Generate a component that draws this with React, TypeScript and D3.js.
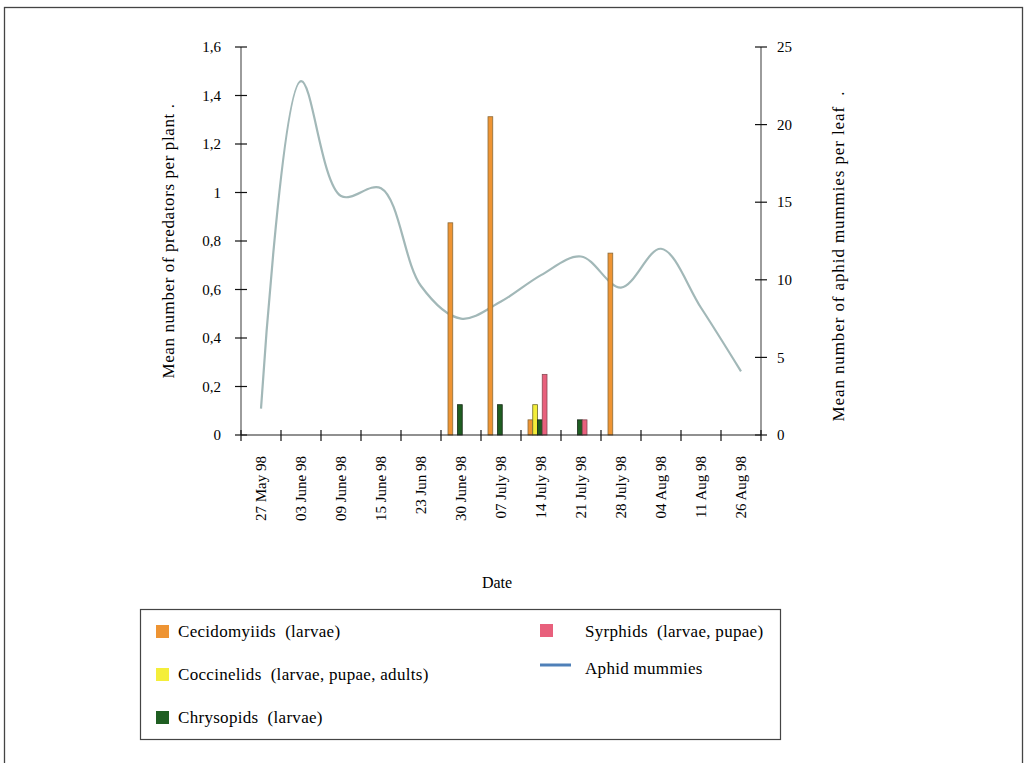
import React from 'react';
import * as d3 from 'd3';

const dates = [
  '27 May 98', '03 June 98', '09 June 98', '15 June 98', '23 Jun 98', '30 June 98',
  '07 July 98', '14 July 98', '21 July 98', '28 July 98', '04 Aug 98', '11 Aug 98', '26 Aug 98',
];

// predators per plant
const cecidomyiids = [0, 0, 0, 0, 0, 0.875, 1.3125, 0.0625, 0, 0.75, 0, 0, 0];
const coccinelids = [0, 0, 0, 0, 0, 0, 0, 0.125, 0, 0, 0, 0, 0];
const chrysopids = [0, 0, 0, 0, 0, 0.125, 0.125, 0.0625, 0.0625, 0, 0, 0, 0];
const syrphids = [0, 0, 0, 0, 0, 0, 0, 0.25, 0.0625, 0, 0, 0, 0];

// aphid mummies per leaf
const mummies = [1.7, 22.8, 15.4, 15.9, 9.6, 7.5, 8.6, 10.3, 11.5, 9.5, 12.0, 8.2, 4.1];

const leftTicks = [0, 0.2, 0.4, 0.6, 0.8, 1, 1.2, 1.4, 1.6];
const rightTicks = [0, 5, 10, 15, 20, 25];

const series = [
  { name: 'Cecidomyiids  (larvae)', values: cecidomyiids, fill: '#EE9433', stroke: '#8a6a3a' },
  { name: 'Coccinelids  (larvae, pupae, adults)', values: coccinelids, fill: '#F4EE3A', stroke: '#6d6a2a' },
  { name: 'Chrysopids  (larvae)', values: chrysopids, fill: '#1F5E22', stroke: '#1a2a1a' },
  { name: 'Syrphids  (larvae, pupae)', values: syrphids, fill: '#E8607C', stroke: '#8a4a55' },
];

const font = '"Liberation Serif", "Times New Roman", serif';

export default function App() {
  const x = d3.scaleBand<string>().domain(dates).range([241, 761]).padding(0);
  const inner = d3.scaleBand<number>().domain([0, 1, 2, 3]).range([7, 26]).padding(0);
  const yL = d3.scaleLinear().domain([0, 1.6]).range([435, 47]);
  const yR = d3.scaleLinear().domain([0, 25]).range([435, 47]);

  const line = d3
    .line<number>()
    .x((_, i) => (x(dates[i]) as number) + x.bandwidth() / 2)
    .y((d) => yR(d))
    .curve(d3.curveCatmullRom.alpha(0.5));

  const fmt = (v: number) => String(v).replace('.', ',');
  const xTicks = [...dates.map((d) => x(d) as number), 761];
  const legendStyle = { whiteSpace: 'pre' as const };

  return (
    <svg width={1027} height={763} style={{ position: 'absolute', left: 0, top: 0, background: '#fff' }} fontFamily={font}>
      <rect x={4.5} y={7.5} width={1018} height={760} fill="#fff" stroke="#444" strokeWidth={1.3} />

      {/* line */}
      <path d={line(mummies) || ''} fill="none" stroke="#A2B8B8" strokeWidth={2.2} />

      {/* bars */}
      {series.map((s, si) =>
        s.values.map((v, i) =>
          v > 0 ? (
            <rect
              key={`${si}-${i}`}
              x={(x(dates[i]) as number) + (inner(si) as number)}
              y={yL(v)}
              width={inner.bandwidth()}
              height={yL(0) - yL(v)}
              fill={s.fill}
              stroke={s.stroke}
              strokeWidth={0.8}
            />
          ) : null
        )
      )}

      {/* left axis */}
      <line x1={241} x2={241} y1={yL(1.6)} y2={yL(0)} stroke="#666" strokeWidth={1.3} />
      {leftTicks.map((t) => (
        <g key={t}>
          <line x1={235} x2={247} y1={yL(t)} y2={yL(t)} stroke="#111" strokeWidth={1.2} />
          <text x={221} y={yL(t)} dy="0.35em" textAnchor="end" fontSize={15}>
            {fmt(t)}
          </text>
        </g>
      ))}

      {/* right axis */}
      <line x1={761} x2={761} y1={yR(25)} y2={yR(0)} stroke="#666" strokeWidth={1.3} />
      {rightTicks.map((t) => (
        <g key={t}>
          <line x1={755} x2={767} y1={yR(t)} y2={yR(t)} stroke="#111" strokeWidth={1.2} />
          <text x={777} y={yR(t)} dy="0.35em" textAnchor="start" fontSize={15}>
            {t}
          </text>
        </g>
      ))}

      {/* x axis */}
      <line x1={241} x2={761} y1={435} y2={435} stroke="#222" strokeWidth={1.2} />
      {xTicks.map((t, i) => (
        <line key={i} x1={t} x2={t} y1={430} y2={441} stroke="#111" strokeWidth={1.2} />
      ))}
      {dates.map((d) => {
        const cx = (x(d) as number) + x.bandwidth() / 2;
        return (
          <text
            key={d}
            transform={`translate(${cx},456) rotate(-90)`}
            dy="0.35em"
            textAnchor="end"
            fontSize={15}
          >
            {d}
          </text>
        );
      })}

      {/* titles */}
      <text x={497} y={588} textAnchor="middle" fontSize={16}>Date</text>
      <text transform="translate(168,241) rotate(-90)" dy="0.35em" textAnchor="middle" fontSize={17} letterSpacing={0.6}>
        Mean number of predators per plant .
      </text>
      <text transform="translate(838,256) rotate(-90)" dy="0.35em" textAnchor="middle" fontSize={17} letterSpacing={0.9} style={legendStyle}>
        Mean number of aphid mummies per leaf  .
      </text>

      {/* legend */}
      <rect x={140.5} y={609.5} width={640} height={130} fill="#fff" stroke="#444" strokeWidth={1.2} />
      {[0, 1, 2].map((k) => (
        <g key={k}>
          <rect x={156} y={625 + k * 43} width={13} height={13} fill={series[k].fill} />
          <text x={178} y={631 + k * 43} dy="0.35em" fontSize={17} letterSpacing={0.3} style={legendStyle}>
            {series[k].name}
          </text>
        </g>
      ))}
      <rect x={540} y={624} width={13} height={13} fill={series[3].fill} />
      <text x={585} y={631} dy="0.35em" fontSize={17} letterSpacing={0.3} style={legendStyle}>{series[3].name}</text>
      <line x1={540} x2={571} y1={665} y2={665} stroke="#4F80B8" strokeWidth={3} />
      <text x={585} y={668} dy="0.35em" fontSize={17} letterSpacing={0.3}>Aphid mummies</text>
    </svg>
  );
}
